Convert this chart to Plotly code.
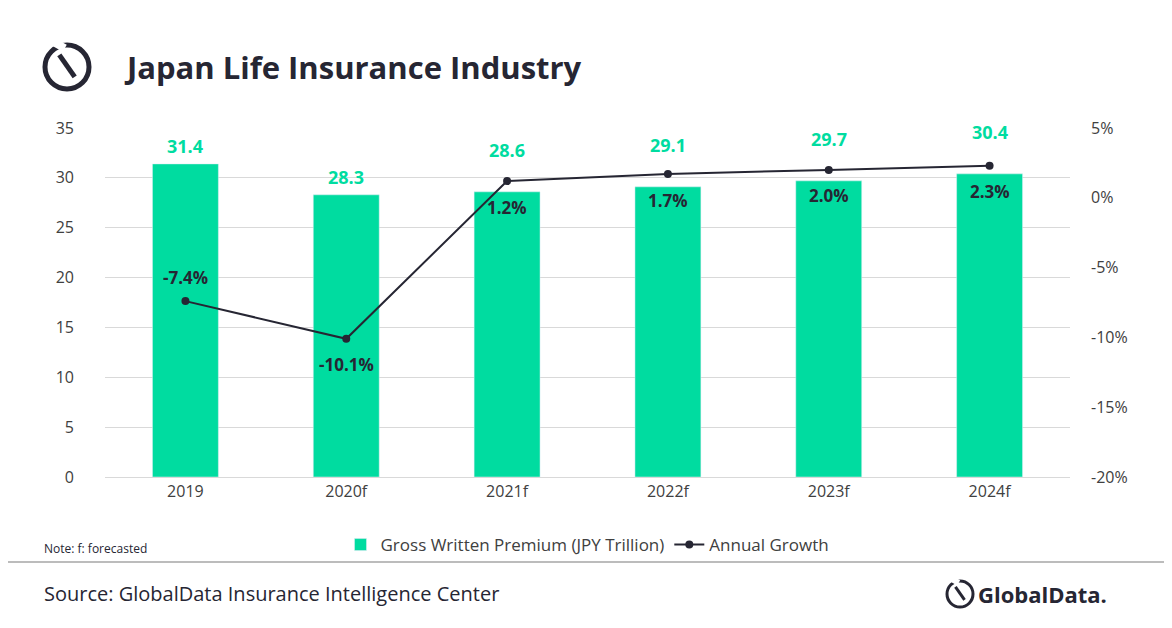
import plotly.graph_objects as go

years = ["2019", "2020f", "2021f", "2022f", "2023f", "2024f"]
premium = [31.4, 28.3, 28.6, 29.1, 29.7, 30.4]
growth = [-7.4, -10.1, 1.2, 1.7, 2.0, 2.3]
growth_above = [True, False, False, False, False, False]
pct_ticks = [5, 0, -5, -10, -15, -20]

TEAL = "#00dca0"
DARK = "#262633"
W, H = 1172, 628
OFF = 8  # page body offset
L, R, T, B = 105 - OFF, 102 + OFF, 128 - OFF, 151 + OFF


def px(x):
    return (x - OFF - L) / (W - L - R)


def py(y):
    return (H - B - (y - OFF)) / (H - T - B)


fig = go.Figure()
fig.add_trace(go.Bar(
    x=years, y=premium, name="Gross Written Premium (JPY Trillion)",
    marker_color=TEAL, width=0.41,
))
fig.add_trace(go.Scatter(
    x=years, y=growth, name="Annual Growth", yaxis="y2",
    mode="lines+markers", line=dict(color=DARK, width=2),
    marker=dict(size=8, color=DARK),
))

# bar value labels, lifted above the growth line where needed
lift = [4, 4, 28, 28, 28, 28]
for i, (v, s) in enumerate(zip(premium, lift)):
    fig.add_annotation(x=i, y=v, xref="x", yref="y", text=f"<b>{v:.1f}</b>", showarrow=False,
                       yanchor="bottom", yshift=s,
                       font=dict(color=TEAL, size=18, family="Open Sans"))
# growth labels
for i, (g, up) in enumerate(zip(growth, growth_above)):
    fig.add_annotation(x=i, y=g, xref="x", yref="y2", text=f"<b>{g:.1f}%</b>", showarrow=False,
                       yanchor="middle", yshift=24 if up else -26,
                       font=dict(color=DARK, size=17, family="Open Sans"))

fig.update_layout(
    width=W, height=H, margin=dict(l=L, r=R, t=T, b=B),
    paper_bgcolor="white", plot_bgcolor="white",
    font=dict(family="Open Sans", color="#404040", size=16),
    yaxis=dict(range=[0, 35], dtick=5, gridcolor="#d9d9d9", zeroline=False,
               ticks="", ticklabelstandoff=30, tickfont=dict(size=16)),
    yaxis2=dict(range=[-20, 5], overlaying="y", side="right",
                tickvals=pct_ticks, ticktext=[f"{v}%" for v in pct_ticks],
                showgrid=False, zeroline=False,
                ticklabelstandoff=20, tickfont=dict(size=16)),
    xaxis=dict(type="category", range=[-0.5, 5.5], showline=True, linecolor="#d9d9d9",
               tickfont=dict(size=16)),
    legend=dict(orientation="h", x=0.5, xanchor="center", y=py(545), yanchor="middle",
                font=dict(size=17), bgcolor="rgba(0,0,0,0)"),
    showlegend=True,
)

fig.add_annotation(text="<b>Japan Life Insurance Industry</b>", xref="paper", yref="paper",
                   x=px(122), y=py(67), xanchor="left", yanchor="middle", showarrow=False,
                   font=dict(size=31, color="#262633", family="Open Sans"))
fig.add_annotation(text="Note: f: forecasted", xref="paper", yref="paper",
                   x=px(42), y=py(548), xanchor="left", yanchor="middle", showarrow=False,
                   font=dict(size=12, color="#262633"))
fig.add_annotation(text="Source: GlobalData Insurance Intelligence Center", xref="paper", yref="paper",
                   x=px(42), y=py(593), xanchor="left", yanchor="middle", showarrow=False,
                   font=dict(size=20, color="#262633"))
fig.add_annotation(text="<b>GlobalData.</b>", xref="paper", yref="paper",
                   x=px(976), y=py(594), xanchor="left", yanchor="middle", showarrow=False,
                   font=dict(size=22, color="#262633"))

# separator line
fig.add_shape(type="line", xref="paper", yref="paper", x0=px(0), x1=px(W + 20), y0=py(562), y1=py(562),
              line=dict(color="#a6a6a6", width=1.5), layer="below")
# logos
for cx, cy, r, w in [(67, 67, 22, 5), (960, 594, 13, 3)]:
    fig.add_shape(type="circle", xref="paper", yref="paper",
                  x0=px(cx - r), x1=px(cx + r), y0=py(cy - r), y1=py(cy + r),
                  line=dict(color="#262633", width=w))
    fig.add_shape(type="line", xref="paper", yref="paper",
                  x0=px(cx - r * 0.35), x1=px(cx + r * 0.35), y0=py(cy - r * 0.55), y1=py(cy + r * 0.45),
                  line=dict(color="#262633", width=w))
    fig.add_shape(type="line", xref="paper", yref="paper",
                  x0=px(cx - r * 0.55), x1=px(cx - r * 0.1), y0=py(cy - r * 1.1), y1=py(cy - r * 0.85),
                  line=dict(color="white", width=w + 3))

fig.write_html("out.html")
